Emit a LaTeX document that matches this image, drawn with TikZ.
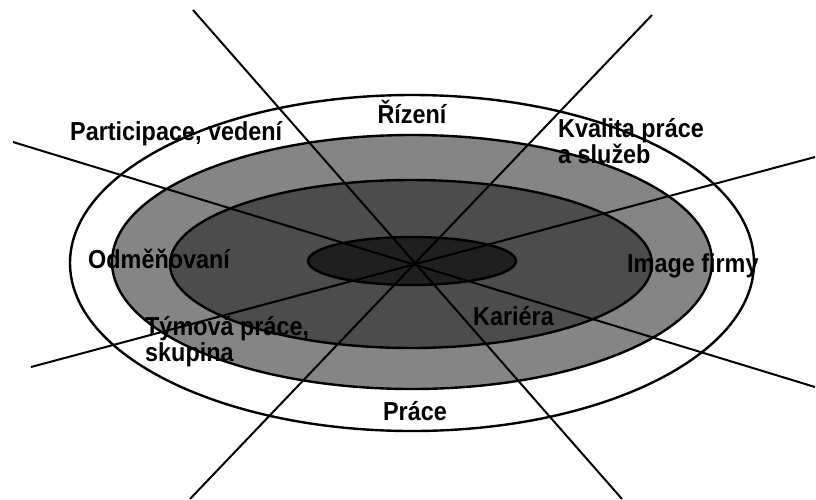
\documentclass[tikz,border=0pt]{standalone}
\usepackage{fontspec}
\setmainfont{Liberation Sans}[FakeStretch=0.9]

\begin{document}
\begin{tikzpicture}[x=1pt,y=-1pt,
  ring/.style={draw,line width=2.4pt},
  spoke/.style={draw,line width=2pt},
  lbl/.style={font=\fontsize{26}{26}\selectfont\bfseries,inner sep=0pt}]
\useasboundingbox (0,0) rectangle (816,499);
\coordinate (c) at (412,263);
% rings
\filldraw[ring,fill=white]    (412,263) ellipse [x radius=342pt,y radius=168pt];
\filldraw[ring,fill=black!48] (412,262) ellipse [x radius=300pt,y radius=127pt];
\filldraw[ring,fill=black!70] (411,264) ellipse [x radius=241pt,y radius=84pt];
\filldraw[ring,fill=black!88] (412,261) ellipse [x radius=104pt,y radius=24pt];
% spokes
\coordinate (n1) at (193,10);  \coordinate (s1) at (622,499);
\coordinate (n2) at (652,15);  \coordinate (s2) at (190,499);
\coordinate (w1) at (13,142);  \coordinate (e1) at (815,387);
\coordinate (e2) at (815,157); \coordinate (w2) at (31,367);
\draw[spoke] (n1) -- (s1);
\draw[spoke] (n2) -- (s2);
\draw[spoke] (w1) -- (e1);
\draw[spoke] (e2) -- (w2);
% labels
\node[lbl,anchor=base] (rizeni) at (412,123) {Řízení};
\node[lbl,anchor=base west] (particip) at (70,140) {Participace, vedení};
\node[lbl,anchor=base west,align=left] (kvalita) at (558,163) {Kvalita práce\\a služeb};
\node[lbl,anchor=base west] (odmen) at (88,268) {Odměňovaní};
\node[lbl,anchor=base west] (image) at (627,272) {Image firmy};
\node[lbl,anchor=base west] (kariera) at (473,325) {Kariéra};
\node[lbl,anchor=base west,align=left] (tym) at (145,361) {Týmová práce,\\skupina};
\node[lbl,anchor=base] (prace) at (415,420) {Práce};
\end{tikzpicture}
\end{document}
